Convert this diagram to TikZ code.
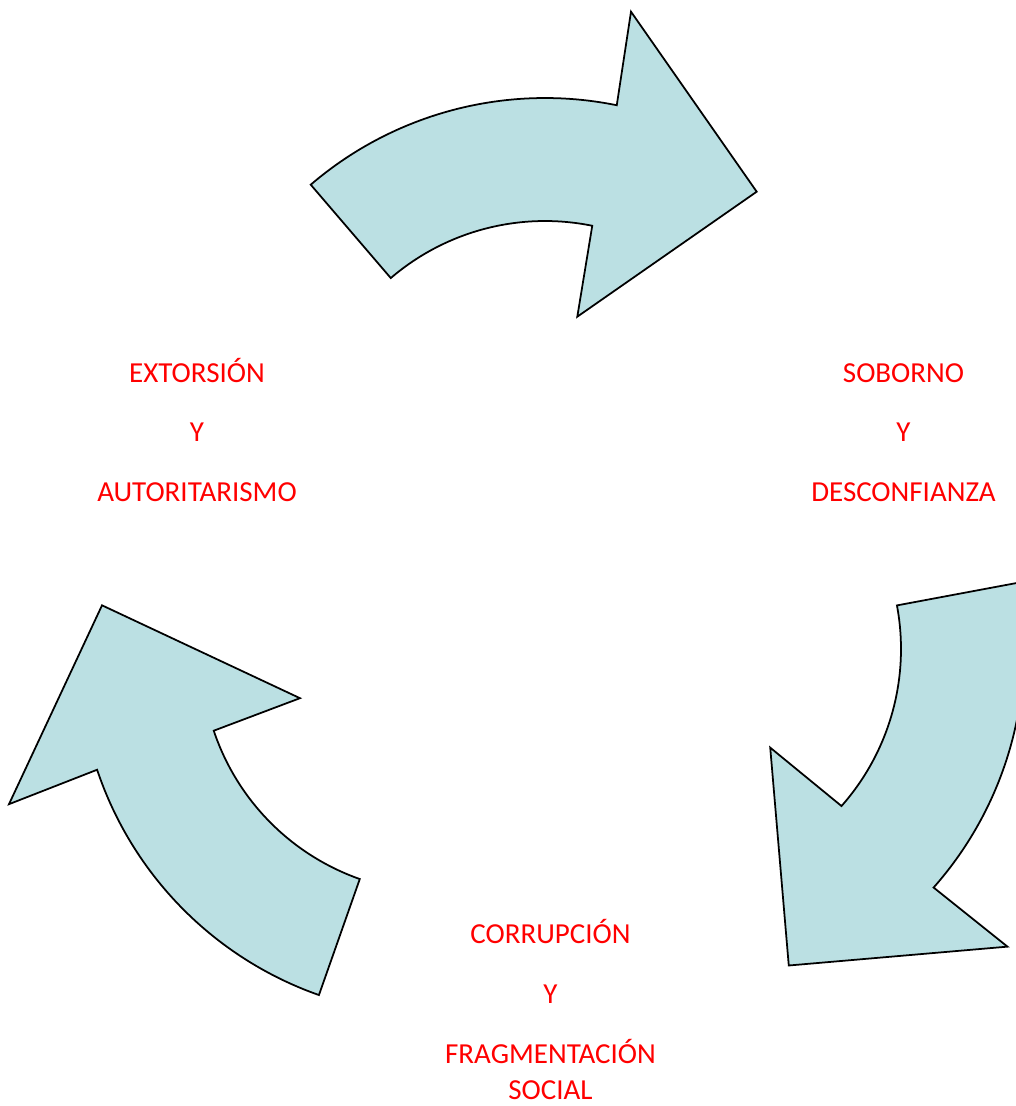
\documentclass[tikz,border=0pt]{standalone}
\usepackage{fontspec}
\setmainfont{Carlito}
\definecolor{azulflecha}{RGB}{187,224,227}
\tikzset{
    flecha/.style    = {draw=black, fill=azulflecha, line width=1pt, line join=miter},
    etiqueta/.style  = {text=red, font=\fontsize{16.5}{20}\selectfont, anchor=base, inner sep=0pt},
    % curved block arrow, origin at the centre of its arc
    flechacurva/.pic = {
        \draw[flecha] (130.6:360) arc[start angle=130.6, end angle=78.5, radius=360]
            -- (86,446.3) -- (211.7,266.3) -- (32.3,141.3)
            -- (78.5:237) arc[start angle=78.5, end angle=130.6, radius=237] -- cycle;
    }
}
\begin{document}
\begin{tikzpicture}[x=0.02cm, y=0.02cm]
    \useasboundingbox (0,0) rectangle (1015,-1106);

    % the three arrows of the cycle
    \pic (arriba)    at (545,-458)   {flechacurva};
    \pic[rotate=-120] (derecha)   at (664,-649)   {flechacurva};
    \pic[rotate=-240] (izquierda) at (438.5,-655.5) {flechacurva};

    % labels
    \node[etiqueta] (soborno) at (903.5,-382) {SOBORNO};
    \node[etiqueta] (sobY) at ([yshift=-1.2cm]soborno.base) {Y};
    \node[etiqueta] (desconfianza) at ([yshift=-1.2cm]sobY.base) {DESCONFIANZA};

    \node[etiqueta] (extorsion) at (197,-382) {EXTORSIÓN};
    \node[etiqueta] (extY) at ([yshift=-1.2cm]extorsion.base) {Y};
    \node[etiqueta] (autoritarismo) at ([yshift=-1.2cm]extY.base) {AUTORITARISMO};

    \node[etiqueta] (corrupcion) at (550.5,-943.5) {CORRUPCIÓN};
    \node[etiqueta] (corY) at ([yshift=-1.2cm]corrupcion.base) {Y};
    \node[etiqueta] (fragmentacion) at ([yshift=-1.2cm]corY.base) {FRAGMENTACIÓN};
    \node[etiqueta] (social) at ([yshift=-0.72cm]fragmentacion.base) {SOCIAL};
\end{tikzpicture}
\end{document}
